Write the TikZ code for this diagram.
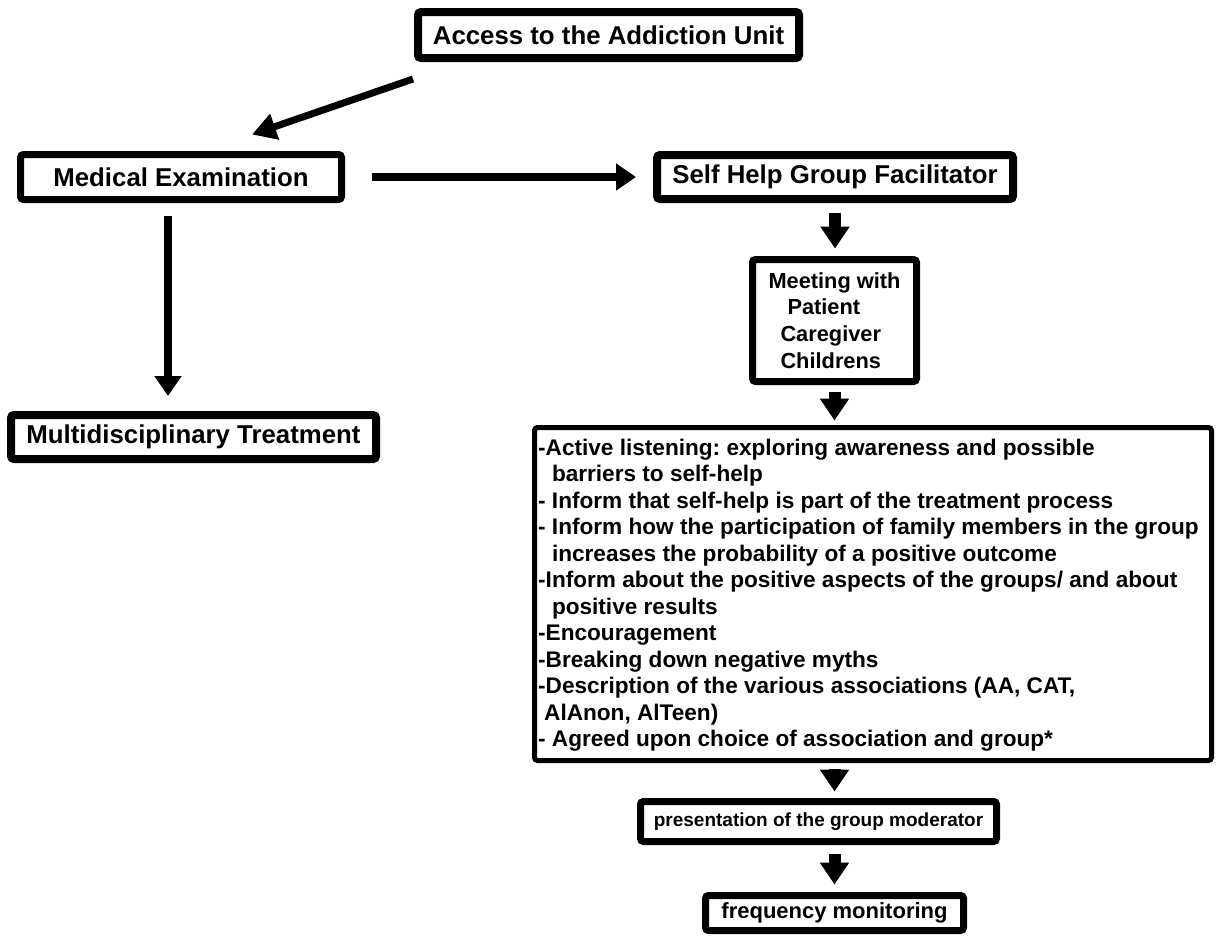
\documentclass[tikz,border=0pt]{standalone}
\usepackage{fontspec}
\setmainfont{Liberation Sans}
\usetikzlibrary{arrows.meta,calc}
\begin{document}
\frenchspacing
\begin{tikzpicture}[x=1pt,y=-1pt,
  box/.style={draw, line width=#1, rounded corners=3pt, inner sep=0pt, align=center},
  box/.default=7pt,
  txt/.style={inner sep=0pt, align=left},
  longarr/.style={line width=8pt, -{Triangle[width=26pt,length=20pt]}},
  diagarr/.style={line width=7pt, -{Triangle[width=26pt,length=24pt]}},
  shortarr/.style={line width=12pt, -{Triangle[width=28pt,length=22pt]}}]
\useasboundingbox (0,0) rectangle (1216,935);
\fill[white] (0,0) rectangle (1216,935);

\node[box=8pt, minimum width=381pt, minimum height=46pt,
  font=\fontsize{25.8}{30}\selectfont\bfseries] (acc) at (608.5,35) {Access to the Addiction Unit};
\node[box=7pt, minimum width=321pt, minimum height=45pt,
  font=\fontsize{25.8}{30}\selectfont\bfseries] (med) at (181,177) {Medical Examination};
\node[box=8pt, minimum width=356pt, minimum height=44pt,
  font=\fontsize{25.8}{30}\selectfont\bfseries] (shg) at (835,177) {Self Help Group Facilitator};
\node[box=7pt, minimum width=164pt, minimum height=122pt, align=left,
  font=\fontsize{21.8}{26.7}\selectfont\bfseries] (meet) at (834.5,320.5)
  {Meeting with\\\hspace*{19pt}Patient\\\hspace*{12pt}Caregiver\\\hspace*{12pt}Childrens};
\node[box=8pt, minimum width=365pt, minimum height=44pt,
  font=\fontsize{25.8}{30}\selectfont\bfseries] (multi) at (193.5,437) {Multidisciplinary Treatment};
\node[box=5pt, minimum width=677pt, minimum height=333pt] (big) at (873,594) {};
\node[txt, anchor=west, font=\fontsize{22.6}{26.5}\selectfont\bfseries] (bigtxt) at ($(big.west)+(6,1)$)
  {-Active listening: exploring awareness and possible\\
   \hspace*{13.8pt}barriers to self-help\\
   - Inform that self-help is part of the treatment process\\
   - Inform how the participation of family members in the group\\
   \hspace*{13.8pt}increases the probability of a positive outcome\\
   -Inform about the positive aspects of the groups/ and about\\
   \hspace*{13.8pt}positive results\\
   -Encouragement\\
   -Breaking down negative myths\\
   -Description of the various associations (AA, CAT,\\
   \hspace*{6pt}AlAnon, AlTeen)\\
   - Agreed upon choice of association and group*};
\node[box=7pt, minimum width=356pt, minimum height=40pt,
  font=\fontsize{19}{24}\selectfont\bfseries] (pres) at (818.5,821.5) {presentation of the group moderator};
\node[box=7pt, minimum width=258pt, minimum height=35pt,
  font=\fontsize{22}{26}\selectfont\bfseries] (freq) at (834.5,913) {frequency monitoring};

\draw[diagarr] ($(acc.south west)+(-1,17)$) -- ($(med.north)+(71,-16.5)$);
\draw[longarr] ($(med.east)+(26.5,0)$) -- ($(med.east -| shg.west)+(-17,0)$);
\draw[longarr] ($(med.south)+(-13,12.5)$) -- ($(multi.north)+(-25.5,-15)$);
\draw[shortarr] ($(shg.south)+(0,10)$) -- ($(shg.south |- meet.north)+(0,-7.5)$);
\draw[shortarr] ($(meet.south)+(0,7)$) -- ($(meet.south |- big.north)+(0,-4.5)$);
\draw[shortarr] ($(big.south -| freq.north)+(0,5.5)$) -- ($(pres.north -| freq.north)+(0,-6.5)$);
\draw[shortarr] ($(pres.south -| freq.north)+(0,8.5)$) -- ($(freq.north)+(0,-7.5)$);
\end{tikzpicture}
\end{document}
